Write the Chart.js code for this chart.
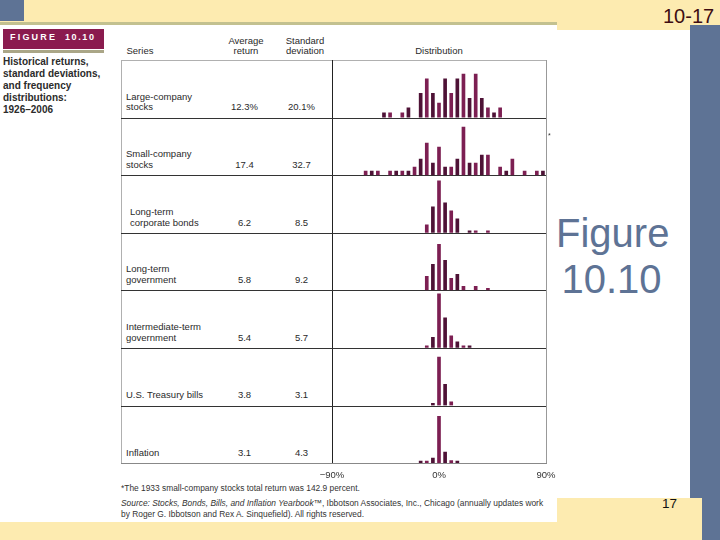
<!DOCTYPE html>
<html>
<head>
<meta charset="utf-8">
<script src="https://cdn.jsdelivr.net/npm/chart.js@4.4.1/dist/chart.umd.min.js"></script>
<style>
  html, body { margin: 0; padding: 0; }
  body {
    width: 720px; height: 540px; position: relative; overflow: hidden;
    background: #fdebb0; font-family: "Liberation Sans", Arial, sans-serif;
  }
  .abs { position: absolute; }
  .line { position: absolute; }
  .tbl { font-size: 9.5px; line-height: 10.7px; color: #2a2a2a; white-space: nowrap; }
  .foot { font-size: 8.4px; line-height: 11px; color: #333; white-space: nowrap; }
</style>
</head>
<body>
<!-- slide frame -->
<div class="abs" style="left:0;top:0;width:24px;height:21px;background:#5e7395"></div>
<div class="abs" style="left:690px;top:25px;width:30px;height:515px;background:#5e7395"></div>
<div class="abs" style="left:0;top:498px;width:702px;height:42px;background:#fdebb0"></div>
<div class="abs" style="left:0;top:22px;width:557px;height:3px;background:#c3c190"></div>
<div class="abs" style="left:0;top:25px;width:557px;height:497px;background:#fff"></div>
<div class="abs" style="left:557px;top:30px;width:133px;height:468px;background:#fff"></div>

<div class="abs" style="left:663px;top:6px;font-size:20px;line-height:20px;color:#3f0d12">10-17</div>
<div class="abs" style="left:556px;top:210px;width:111px;text-align:center;font-size:40px;line-height:46px;color:#5e7395">Figure<br>10.10</div>
<div class="abs" style="left:662px;top:497px;font-size:13.5px;line-height:14px;color:#111">17</div>

<!-- figure label -->
<div class="abs" style="left:3px;top:29px;width:101px;height:20px;background:#8a1b4e"></div>
<div class="abs" style="left:10px;top:32px;font-size:9px;line-height:10px;font-weight:bold;color:#fff;letter-spacing:2.2px">FIGURE</div>
<div class="abs" style="left:65px;top:32px;font-size:9px;line-height:10px;font-weight:bold;color:#fff;letter-spacing:1.6px">10.10</div>
<div class="abs" style="left:3px;top:50px;width:101px;height:3px;background:#aaa687"></div>
<div class="abs" style="left:3px;top:56.3px;font-size:10px;line-height:11.9px;font-weight:bold;color:#2b2b2b">Historical returns,<br>standard deviations,<br>and frequency<br>distributions:<br>1926–2006</div>

<!-- table header -->
<div class="abs tbl" style="left:126.5px;top:46.4px">Series</div>
<div class="abs tbl" style="left:216px;top:35.7px;width:60px;text-align:center">Average<br>return</div>
<div class="abs tbl" style="left:275px;top:35.7px;width:60px;text-align:center">Standard<br>deviation</div>
<div class="abs tbl" style="left:399px;top:46.4px;width:80px;text-align:center">Distribution</div>

<div id="table"></div>

<canvas id="dist" class="abs" width="254" height="423" style="left:312px;top:60px;width:254px;height:423px"></canvas>

<div class="abs" style="left:548px;top:132px;font-size:7px;line-height:8px;color:#333">*</div>

<div class="abs foot" style="left:121px;top:483.3px">*The 1933 small-company stocks total return was 142.9 percent.</div>
<div class="abs foot" style="left:121px;top:498.3px"><i>Source: Stocks, Bonds, Bills, and Inflation Yearbook™</i>, Ibbotson Associates, Inc., Chicago (annually updates work</div>
<div class="abs foot" style="left:121px;top:509.3px">by Roger G. Ibbotson and Rex A. Sinquefield). All rights reserved.</div>

<script>
// return bins (per cent), tick labels
const binLabels = [-85, -80, -75, -70, -65, -60, -55, -50, -45, -40, -35, -30, -25, -20, -15, -10, -5,
  0, 5, 10, 15, 20, 25, 30, 35, 40, 45, 50, 55, 60, 65, 70, 75, 80, 85];
const tickValues = [-90, 0, 90];

const seriesNames = [
  ["Large-company", "stocks"],
  ["Small-company", "stocks"],
  ["Long-term", "corporate bonds"],
  ["Long-term", "government"],
  ["Intermediate-term", "government"],
  ["U.S. Treasury bills"],
  ["Inflation"]
];
const averageReturn = [12.3, 17.4, 6.2, 5.8, 5.4, 3.8, 3.1];
const standardDeviation = [20.1, 32.7, 8.5, 9.2, 5.7, 3.1, 4.3];

// number of years per bin
const largeCompany = [0,0,0,0,0,0,0,0,1,1,0,1,2,0,5,8,5,3,8,5,8,9,4,9,4,2,1,2,0,0,0,0,0,0,0];
const smallCompany = [0,0,0,0,0,1,1,1,0,1,1,1,1,2,4,8,3,7,2,2,4,12,3,3,5,5,0,2,1,4,0,1,0,1,1];
const corporateBonds = [0,0,0,0,0,0,0,0,0,0,0,0,0,0,0,4,13,26,15,11,7,0,1,1,0,1,0,0,0,0,0,0,0,0,0];
const governmentBonds = [0,0,0,0,0,0,0,0,0,0,0,0,0,0,0,7,13,23,15,6,8,2,0,2,0,1,0,0,0,0,0,0,0,0,0];
const intermediateGov = [0,0,0,0,0,0,0,0,0,0,0,0,0,0,0,1,7,36,20,8,4,1,1,0,0,0,0,0,0,0,0,0,0,0,0];
const treasuryBills = [0,0,0,0,0,0,0,0,0,0,0,0,0,0,0,0,1,53,23,4,0,0,0,0,0,0,0,0,0,0,0,0,0,0,0];
const inflation = [0,0,0,0,0,0,0,0,0,0,0,0,0,0,1,1,6,56,13,3,1,0,0,0,0,0,0,0,0,0,0,0,0,0,0];

const rowSeries = [largeCompany, smallCompany, corporateBonds, governmentBonds, intermediateGov, treasuryBills, inflation];
// each histogram has its own vertical scale
const rowScaleMax = [11.9, 14.4, 28.8, 28.8, 38.4, 63, 69];

const tableTop = 60, rowH = 57.6;
const tbl = document.getElementById("table");
function addLine(x, y, w, h, color) {
  const d = document.createElement("div");
  d.className = "line";
  d.style.cssText = `left:${x}px;top:${y}px;width:${w}px;height:${h}px;background:${color}`;
  tbl.appendChild(d);
}
const tableBottom = tableTop + rowH * seriesNames.length;
addLine(121, tableTop, 425, 1, "#b0b0b0");
addLine(121, tableTop, 1, tableBottom - tableTop, "#b0b0b0");
addLine(546, tableTop, 1, tableBottom - tableTop + 1, "#999");
addLine(332, tableTop, 1.3, tableBottom - tableTop, "#222");
addLine(121, tableBottom, 426, 1, "#888");

seriesNames.forEach((lines, i) => {
  const yb = tableTop + rowH * (i + 1);
  if (i < seriesNames.length - 1) addLine(121, yb, 425, 1, "#333");
  const base = yb - 6.6;
  const name = document.createElement("div");
  name.className = "abs tbl";
  name.style.left = (i === 2 ? 130 : 126) + "px";
  name.style.top = (base - 8.64 - (lines.length - 1) * 10.7) + "px";
  name.innerHTML = lines.join("<br>");
  tbl.appendChild(name);
  const pct = i === 0 ? "%" : "";
  [[averageReturn[i], 244.5], [standardDeviation[i], 301.5]].forEach(([v, cx]) => {
    const d = document.createElement("div");
    d.className = "abs tbl";
    d.style.cssText += `left:${cx - 25}px;width:50px;text-align:center;top:${base - 8.64}px`;
    d.textContent = v.toFixed(1) + pct;
    tbl.appendChild(d);
  });
});

const barColors = ["#4e1236", "#7c1f52"];
const scales = {
  x: { type: "category", display: false, offset: true },
  xt: {
    type: "linear", position: "bottom", min: -90, max: 90, offset: false,
    afterBuildTicks: s => { s.ticks = tickValues.map(v => ({ value: v })); },
    afterFit: s => { s.height = 20; },
    grid: { display: false, drawTicks: false, offset: false },
    border: { display: false },
    ticks: {
      padding: 7, maxRotation: 0, autoSkip: false, color: "#333",
      font: { family: "Liberation Sans", size: 9.5 },
      callback: v => (v < 0 ? "\u2212" + Math.abs(v) : v) + "%"
    }
  }
};
// stacked axes are laid out last-defined on top, so add them bottom row first
for (let i = rowSeries.length - 1; i >= 0; i--) {
  scales["r" + i] = {
    type: "linear", position: "left", stack: "rows", stackWeight: 1,
    min: 0, max: rowScaleMax[i],
    ticks: { display: false }, grid: { display: false }, border: { display: false },
    afterFit: s => { s.width = 0; }
  };
}

new Chart("dist", {
  type: "bar",
  data: {
    labels: binLabels,
    datasets: rowSeries.map((vals, i) => ({
      label: seriesNames[i].join(" "),
      data: vals.map(v => (v === 0 ? null : v)),
      yAxisID: "r" + i,
      xAxisID: "x",
      backgroundColor: vals.map((_, j) => barColors[j % 2]),
      barThickness: 3,
      grouped: false,
      minBarLength: 2,
      borderWidth: 0
    }))
  },
  options: {
    responsive: false,
    animation: false,
    layout: { padding: { left: 20, right: 20, top: 0, bottom: 0 } },
    plugins: { legend: { display: false }, tooltip: { enabled: false } },
    scales: scales
  }
});
</script>
</body>
</html>
